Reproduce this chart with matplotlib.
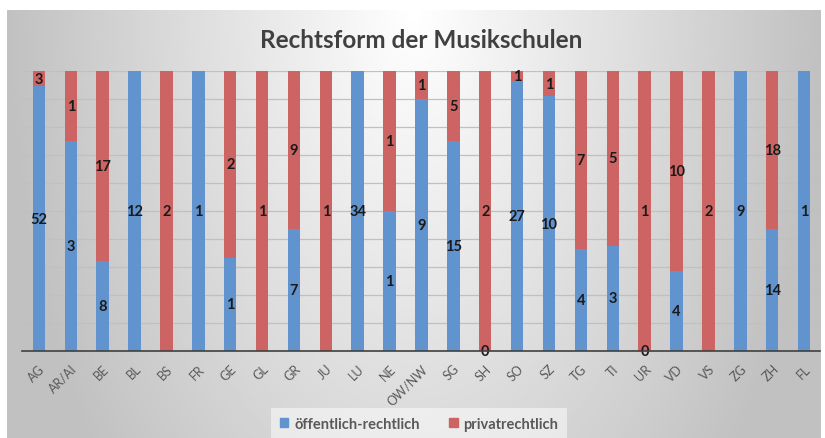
import numpy as np
import matplotlib
matplotlib.use("Agg")
import matplotlib.pyplot as plt
from matplotlib.patches import Patch

plt.rcParams['font.family'] = ['Lato', 'DejaVu Sans']

# Kantone
kantone = ["AG", "AR/AI", "BE", "BL", "BS", "FR", "GE", "GL", "GR", "JU", "LU", "NE",
           "OW/NW", "SG", "SH", "SO", "SZ", "TG", "TI", "UR", "VD", "VS", "ZG", "ZH", "FL"]
# Anzahl Musikschulen (nan = kein Eintrag)
oeffentlich = [52, 3, 8, 12, np.nan, 1, 1, np.nan, 7, np.nan, 34, 1,
               9, 15, 0, 27, 10, 4, 3, 0, 4, np.nan, 9, 14, 1]
privat = [3, 1, 17, np.nan, 2, np.nan, 2, 1, 9, 1, np.nan, 1,
          1, 5, 2, 1, 1, 7, 5, 1, 10, 2, np.nan, 18, np.nan]

blau = "#6194cf"
rot = "#cd6464"

pub = np.nan_to_num(np.array(oeffentlich, dtype=float))
prv = np.nan_to_num(np.array(privat, dtype=float))
total = pub + prv
pub_pct = pub / total
prv_pct = prv / total

fig = plt.figure(figsize=(8.25, 4.39), dpi=100)

# Hintergrund mit Verlauf
bg = fig.add_axes([7 / 825, 0, 813 / 825, 428 / 439])
gx, gy = np.meshgrid(np.linspace(-1, 1, 300), np.linspace(0, 1, 200))
r = np.clip(np.sqrt(gx ** 2 + (0.6 * gy) ** 2), 0, 1)
v = (255 - 62 * r) / 255
bg.imshow(v, cmap="gray", vmin=0, vmax=1, aspect="auto", extent=[0, 1, 0, 1],
          origin="upper", interpolation="bilinear")
bg.set_axis_off()

ax = fig.add_axes([22 / 825, 1 - 352 / 439, 798 / 825, 280 / 439])
ax.set_facecolor("none")
x = np.arange(len(kantone))
ax.bar(x, pub_pct, width=0.39, color=blau, zorder=3)
ax.bar(x, prv_pct, width=0.39, bottom=pub_pct, color=rot, zorder=3)

for i in range(len(kantone)):
    if not np.isnan(oeffentlich[i]):
        ax.text(x[i], pub_pct[i] / 2, f"{int(oeffentlich[i])}", ha="center", va="center",
                fontsize=10.5, fontweight="bold", color="#1a1a1a", zorder=4)
    if not np.isnan(privat[i]):
        ax.text(x[i], pub_pct[i] + prv_pct[i] / 2, f"{int(privat[i])}", ha="center",
                va="center", fontsize=10.5, fontweight="bold", color="#1a1a1a", zorder=4)

ax.set_xlim(-0.53, 24.5)
ax.set_ylim(0, 1)
ax.set_yticks(np.arange(0, 1.01, 0.1))
ax.yaxis.grid(True, color="#c0c0c0", linewidth=0.9, zorder=0)
ax.tick_params(axis="y", left=False, labelleft=False)
ax.set_xticks(x)
ax.set_xticklabels(kantone, rotation=45, ha="right", rotation_mode="anchor",
                   fontsize=9, color="#595959")
ax.tick_params(axis="x", length=0, pad=8)
for s in ["top", "right", "left"]:
    ax.spines[s].set_visible(False)
ax.spines["bottom"].set_color("#404040")
ax.spines["bottom"].set_linewidth(1.2)
ax.spines["bottom"].set_zorder(5)

fig.text(0.51, 1 - 40 / 439, "Rechtsform der Musikschulen", ha="center", va="center",
         fontsize=17.5, fontweight="bold", color="#404040")

handles = [Patch(color=blau, label="öffentlich-rechtlich"),
           Patch(color=rot, label="privatrechtlich")]
leg = fig.legend(handles=handles, loc="center", bbox_to_anchor=(0.508, 1 - 425 / 439),
                 ncol=2, frameon=True, fontsize=10.5, handlelength=0.6, handleheight=0.6,
                 handletextpad=0.4, columnspacing=2.0, borderpad=0.6)
leg.get_frame().set_facecolor("white")
leg.get_frame().set_alpha(0.5)
leg.get_frame().set_edgecolor("none")
leg.get_frame().set_boxstyle("square", pad=0)
for t in leg.get_texts():
    t.set_color("#595959")
    t.set_fontweight("bold")

fig.savefig("out.png", dpi=100)
